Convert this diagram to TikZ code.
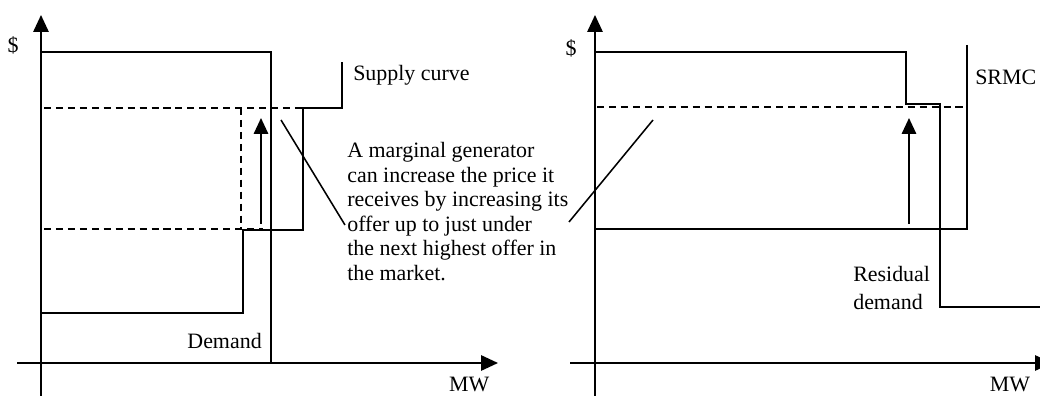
\documentclass[tikz,border=0pt]{standalone}
\usepackage{fontspec}
\setmainfont{Liberation Serif}
\usetikzlibrary{arrows.meta}

\begin{document}
\begin{tikzpicture}[
  every node/.style={font=\fontsize{15.6}{17.4}\selectfont, inner sep=0pt},
  axis/.style={line width=1.3pt, -{Triangle[length=0.42cm,width=0.38cm]}},
  curve/.style={line width=1.4pt},
  guide/.style={line width=0.9pt, dash pattern=on 5pt off 3.5pt},
  raise/.style={line width=1.4pt, -{Triangle[length=0.4cm,width=0.36cm]}}]
  \useasboundingbox (0,0) rectangle (26,9.9);
  \clip (0,0) rectangle (26,9.9);

  % left panel: axes
  \draw[axis] (0.425,0.825) -- (12.45,0.825);
  \draw[axis] (1.025,0) -- (1.025,9.525);
  \node (priceL) at (0.325,8.775) {\$};
  \node (mwL) at (11.73,0.3) {MW};

  % demand
  \draw[curve] (1.025,8.6) -- (6.775,8.6) -- (6.775,0.825);
  \node[anchor=east] (demand) at (6.55,1.375) {Demand};

  % supply curve
  \draw[curve] (1.025,2.075) -| (6.075,4.15) -| (7.575,7.2) -| (8.55,8.35);
  \node[anchor=west] (supply) at (8.825,8.025) {Supply curve};

  % price levels
  \draw[guide] (1.1,7.2) -- (7.575,7.2);
  \draw[guide] (1.1,4.175) -- (6.575,4.175);
  \draw[guide] (6.025,7.2) -- (6.025,4.175);
  \draw[raise] (6.525,4.3) -- (6.525,6.95);

  % note
  \node[anchor=north west, align=left] (note) at (8.675,6.34)
    {A marginal generator\\
     can increase the price it\\
     receives by increasing its\\
     offer up to just under\\
     the next highest offer in\\
     the market.};
  \coordinate (markL) at (7.025,6.9);
  \coordinate (noteL) at (8.625,4.275);
  \coordinate (markR) at (16.325,6.9);
  \coordinate (noteR) at (14.225,4.35);
  \draw[line width=1.1pt] (markL) -- (noteL);
  \draw[line width=1.1pt] (markR) -- (noteR);

  % right panel: axes
  \draw[axis] (14.25,0.825) -- (26.3,0.825);
  \draw[axis] (14.875,0) -- (14.875,9.525);
  \node (priceR) at (14.275,8.7) {\$};
  \node (mwR) at (25.25,0.3) {MW};

  % residual demand
  \draw[curve] (14.875,8.6) -- (22.65,8.6) |- (23.5,7.3) |- (26.1,2.225);
  \node[anchor=north west, align=left, font=\fontsize{15.6}{19.9}\selectfont]
    (residual) at (21.325,3.25) {Residual\\demand};

  % SRMC
  \draw[curve] (24.175,8.775) -- (24.175,4.175) -- (14.875,4.175);
  \node[anchor=west] (srmc) at (24.375,7.975) {SRMC};
  \draw[guide] (14.925,7.225) -- (24.175,7.225);
  \draw[raise] (22.725,4.3) -- (22.725,6.95);
\end{tikzpicture}
\end{document}
